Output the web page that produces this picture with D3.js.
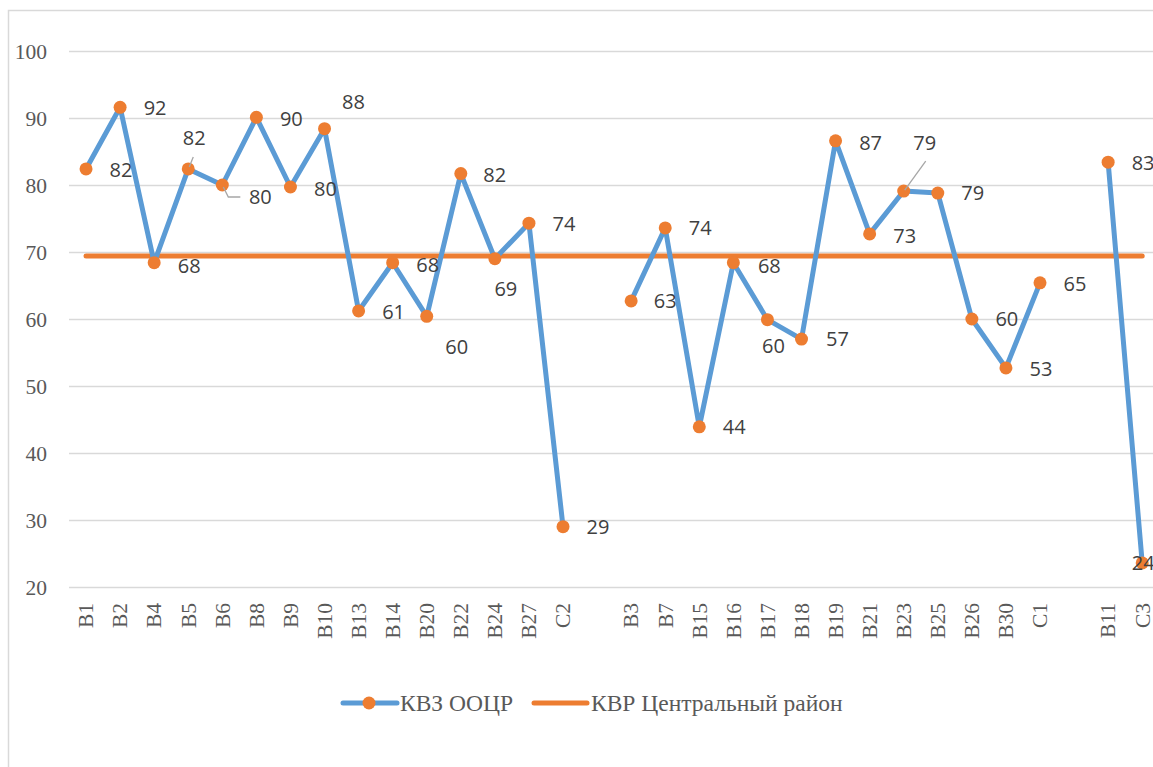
<!DOCTYPE html>
<html>
<head>
<meta charset="utf-8">
<script src="https://cdn.jsdelivr.net/npm/d3@7"></script>
<style>
  html, body { margin: 0; padding: 0; background: #fff; }
  svg { display: block; }
</style>
</head>
<body>
<svg id="chart" width="1153" height="767"></svg>
<script>
// ---- data ----
const categories = ["B1","B2","B4","B5","B6","B8","B9","B10","B13","B14","B20","B22","B24","B27","C2","",
  "B3","B7","B15","B16","B17","B18","B19","B21","B23","B25","B26","B30","C1","",
  "B11","C3"];
const kvzValues = [82.4, 91.6, 68.4, 82.4, 80.0, 90.1, 79.7, 88.4, 61.2, 68.4, 60.4, 81.7, 69.0, 74.3, 29.0, null,
  62.7, 73.6, 43.9, 68.4, 59.9, 57.0, 86.6, 72.7, 79.1, 78.8, 60.0, 52.7, 65.4, null,
  83.4, 23.6];
const kvrValue = 69.4;
const yTicks = [20, 30, 40, 50, 60, 70, 80, 90, 100];
const seriesNames = ["КВЗ ООЦР", "КВР Центральный район"];

// label placement (offset of label centre from its point), as Excel placed them
const labelOffsets = [[35,1],[35,1],[35,3],[6,-31],[38,12],[35,1],[35,2],[29,-27],[35,1],[35,2],[30,30],[34,1],[11,30],[35,1],[35,0],null,
  [34,0],[35,0],[35,0],[36,3],[6,26],[36,0],[35,2],[35,2],[21,-48],[35,0],[35,0],[35,1],[35,1],null,
  [35,1],[1,0]];
// leader lines: [category index, points relative to data point]
const leaders = [
  [3, [[1,-2],[5,-12]]],
  [4, [[1,2],[6,12],[18,12]]],
  [24, [[1,-1],[22,-30]]]
];

// ---- drawing ----
const svg = d3.select("#chart");
const blue = "#5B9BD5", orange = "#ED7D31";
const step = 34.07;
const plotLeft = 69, plotTop = 51, plotBottom = 587;

const x = d3.scaleBand().domain(d3.range(categories.length)).range([plotLeft, plotLeft + step * categories.length]).padding(0);
const y = d3.scaleLinear().domain([20, 100]).range([plotBottom, plotTop]);
const cx = i => x(i) + x.bandwidth() / 2;

// chart border
svg.append("rect").attr("x", 8.5).attr("y", 10.5).attr("width", 1200).attr("height", 800)
  .attr("fill", "none").attr("stroke", "#d9d9d9").attr("stroke-width", 1.5);

// gridlines + y axis
const yAxis = d3.axisLeft(y).tickValues(yTicks).tickSize(-(step * categories.length)).tickPadding(22);
const gy = svg.append("g").attr("transform", `translate(${plotLeft},0)`).call(yAxis);
gy.select(".domain").remove();
gy.selectAll(".tick line").attr("stroke", "#d9d9d9").attr("stroke-width", 1.5);
gy.selectAll(".tick text").attr("fill", "#595959")
  .style("font-family", "'Liberation Serif', 'Times New Roman', serif").style("font-size", "21.5px")
  .attr("dy", "0.34em");

// x axis labels
const xAxis = d3.axisBottom(x).tickFormat(i => categories[i]).tickSize(0).tickPadding(0);
const gx = svg.append("g").attr("transform", `translate(0,${plotBottom})`).call(xAxis);
gx.select(".domain").remove();
gx.selectAll(".tick text")
  .attr("transform", "rotate(-90)")
  .attr("x", -16).attr("y", 0).attr("dy", "0.34em")
  .attr("text-anchor", "end")
  .attr("fill", "#595959")
  .style("font-family", "'Liberation Serif', 'Times New Roman', serif").style("font-size", "21.5px");

// KVR line
svg.append("line")
  .attr("x1", cx(0)).attr("x2", cx(categories.length - 1))
  .attr("y1", y(kvrValue)).attr("y2", y(kvrValue))
  .attr("stroke", orange).attr("stroke-width", 5).attr("stroke-linecap", "round");

// KVZ line
const line = d3.line().defined(d => d != null).x((d, i) => cx(i)).y(d => y(d));
svg.append("path").datum(kvzValues).attr("d", line)
  .attr("fill", "none").attr("stroke", blue).attr("stroke-width", 5).attr("stroke-linejoin", "round").attr("stroke-linecap", "round");

// markers
const pts = kvzValues.map((v, i) => ({v, i})).filter(d => d.v != null);
svg.append("g").selectAll("circle").data(pts).join("circle")
  .attr("cx", d => cx(d.i)).attr("cy", d => y(d.v)).attr("r", 6.5).attr("fill", orange);

// leader lines
leaders.forEach(([i, p]) => {
  svg.append("polyline")
    .attr("points", p.map(q => [cx(i) + q[0], y(kvzValues[i]) + q[1]].join(",")).join(" "))
    .attr("fill", "none").attr("stroke", "#a6a6a6").attr("stroke-width", 1.3);
});

// data labels
svg.append("g").selectAll("text").data(pts).join("text")
  .attr("x", d => cx(d.i) + labelOffsets[d.i][0])
  .attr("y", d => y(d.v) + labelOffsets[d.i][1])
  .attr("dy", "0.36em").attr("text-anchor", "middle")
  .attr("fill", "#404040")
  .style("font-family", "'Open Sans', 'Noto Sans', sans-serif").style("font-size", "20px")
  .text(d => d3.format(".0f")(d.v));

// legend
const lg = svg.append("g").style("font-family", "'Liberation Serif', 'Times New Roman', serif").style("font-size", "23.5px");
const ly = 703;
lg.append("line").attr("x1", 343).attr("x2", 397).attr("y1", ly).attr("y2", ly)
  .attr("stroke", blue).attr("stroke-width", 5).attr("stroke-linecap", "round");
lg.append("circle").attr("cx", 369).attr("cy", ly).attr("r", 6.5).attr("fill", orange);
lg.append("text").attr("x", 400).attr("y", ly).attr("dy", "0.35em").attr("fill", "#595959").text(seriesNames[0]);
lg.append("line").attr("x1", 534).attr("x2", 587).attr("y1", ly).attr("y2", ly)
  .attr("stroke", orange).attr("stroke-width", 5).attr("stroke-linecap", "round");
lg.append("text").attr("x", 591).attr("y", ly).attr("dy", "0.35em").attr("fill", "#595959").text(seriesNames[1]);
</script>
</body>
</html>
